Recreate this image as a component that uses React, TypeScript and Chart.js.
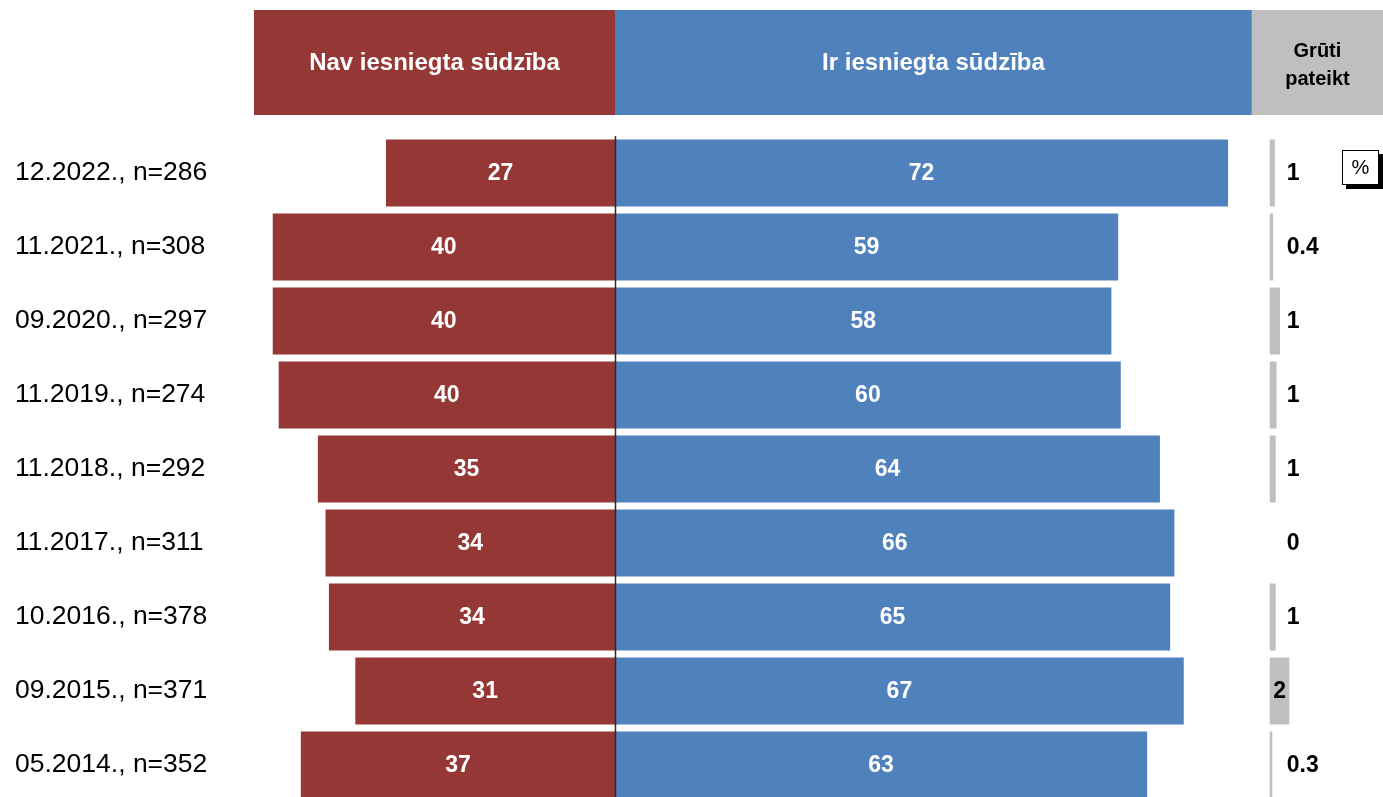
import React, { useEffect, useRef } from "react";
import { Chart, registerables } from "chart.js";

Chart.register(...registerables);

const FONT = "'Liberation Sans', Arial, Helvetica, sans-serif";

const categories = [
  "12.2022., n=286",
  "11.2021., n=308",
  "09.2020., n=297",
  "11.2019., n=274",
  "11.2018., n=292",
  "11.2017., n=311",
  "10.2016., n=378",
  "09.2015., n=371",
  "05.2014., n=352",
];
const seriesNames = ["Nav iesniegta sūdzība", "Ir iesniegta sūdzība", "Grūti pateikt"];
const notSubmitted = [26.9, 40.2, 40.2, 39.5, 34.9, 34.0, 33.6, 30.5, 36.9];
const submitted = [72.0, 59.1, 58.3, 59.4, 64.0, 65.7, 65.2, 66.8, 62.5];
const hardToSay = [0.6, 0.4, 1.2, 0.8, 0.7, 0, 0.7, 2.3, 0.3];
const notSubmittedLabels = ["27", "40", "40", "40", "35", "34", "34", "31", "37"];
const submittedLabels = ["72", "59", "58", "60", "64", "66", "65", "67", "63"];
const hardToSayLabels = ["1", "0.4", "1", "1", "1", "0", "1", "2", "0.3"];
const unitLabel = "%";

const RED = "#953735";
const BLUE = "#4F81BD";
const GRAY = "#BFBFBF";

const headerPlugin = {
  id: "headerPlugin",
  beforeDraw(chart: any) {
    const { ctx, chartArea, scales } = chart;
    const x0 = scales.x.getPixelForValue(0);
    const xBlueEnd = scales.x.getPixelForValue(74.8);
    const top = 10;
    const h = 105;
    ctx.save();
    ctx.fillStyle = RED;
    ctx.fillRect(chartArea.left, top, x0 - chartArea.left, h);
    ctx.fillStyle = BLUE;
    ctx.fillRect(x0, top, xBlueEnd - x0, h);
    ctx.fillStyle = GRAY;
    ctx.fillRect(xBlueEnd, top, chart.width - xBlueEnd, h);
    ctx.textAlign = "center";
    ctx.textBaseline = "middle";
    ctx.font = `bold 24px ${FONT}`;
    ctx.fillStyle = "#FFFFFF";
    ctx.fillText(seriesNames[0], (chartArea.left + x0) / 2, top + h / 2 + 1);
    ctx.fillText(seriesNames[1], (x0 + xBlueEnd) / 2, top + h / 2 + 1);
    ctx.font = `bold 20px ${FONT}`;
    ctx.fillStyle = "#000000";
    const gx = (xBlueEnd + chart.width) / 2;
    const parts = seriesNames[2].split(" ");
    ctx.fillText(parts[0], gx, top + 41);
    ctx.fillText(parts[1], gx, top + 69);
    ctx.restore();
  },
};

const labelsPlugin = {
  id: "labelsPlugin",
  afterDatasetsDraw(chart: any) {
    const { ctx, chartArea, scales } = chart;
    ctx.save();
    // zero line
    const x0 = Math.round(scales.x.getPixelForValue(0)) + 0.5;
    ctx.strokeStyle = "#2a2a2a";
    ctx.lineWidth = 1.5;
    ctx.beginPath();
    ctx.moveTo(x0, chartArea.top);
    ctx.lineTo(x0, chartArea.bottom);
    ctx.stroke();

    ctx.font = `bold 23px ${FONT}`;
    ctx.textBaseline = "middle";
    const labelSets = [notSubmittedLabels, submittedLabels, hardToSayLabels];
    labelSets.forEach((labels, di) => {
      const meta = chart.getDatasetMeta(di);
      meta.data.forEach((el: any, i: number) => {
        const text = labels[i];
        const w = Math.abs(el.x - el.base);
        if (di < 2) {
          ctx.fillStyle = "#FFFFFF";
          ctx.textAlign = "center";
          ctx.fillText(text, (el.x + el.base) / 2, el.y + 1);
        } else {
          ctx.fillStyle = "#000000";
          const tw = ctx.measureText(text).width;
          if (w > tw + 4) {
            ctx.textAlign = "center";
            ctx.fillText(text, (el.x + el.base) / 2, el.y + 1);
          } else {
            ctx.textAlign = "left";
            ctx.fillText(text, el.base + 17, el.y + 1);
          }
        }
      });
    });

    // unit box
    const bw = 37;
    const bh = 35;
    const bx = chart.width - 41;
    const by = chartArea.top + 14;
    ctx.fillStyle = "#000000";
    ctx.fillRect(bx + 4, by + 4, bw, bh);
    ctx.fillStyle = "#FFFFFF";
    ctx.fillRect(bx, by, bw, bh);
    ctx.strokeStyle = "#000000";
    ctx.lineWidth = 1;
    ctx.strokeRect(bx + 0.5, by + 0.5, bw - 1, bh - 1);
    ctx.fillStyle = "#000000";
    ctx.font = `20px ${FONT}`;
    ctx.textAlign = "center";
    ctx.textBaseline = "middle";
    ctx.fillText(unitLabel, bx + bw / 2, by + bh / 2 + 1);
    ctx.restore();
  },
};

export default function App() {
  const canvasRef = useRef<HTMLCanvasElement | null>(null);

  useEffect(() => {
    if (!canvasRef.current) return;
    const chart = new Chart(canvasRef.current, {
      type: "bar",
      data: {
        labels: categories,
        datasets: [
          {
            label: seriesNames[0],
            data: notSubmitted.map((v) => -v),
            backgroundColor: RED,
            xAxisID: "x",
            grouped: false,
            categoryPercentage: 1,
            barPercentage: 0.905,
          },
          {
            label: seriesNames[1],
            data: submitted,
            backgroundColor: BLUE,
            xAxisID: "x",
            grouped: false,
            categoryPercentage: 1,
            barPercentage: 0.905,
          },
          {
            label: seriesNames[2],
            data: hardToSay,
            backgroundColor: GRAY,
            xAxisID: "x2",
            grouped: false,
            categoryPercentage: 1,
            barPercentage: 0.905,
          },
        ] as any,
      },
      options: {
        indexAxis: "y",
        animation: false,
        responsive: true,
        maintainAspectRatio: false,
        layout: { padding: { left: 15, top: 136, right: 0, bottom: 0 } },
        plugins: {
          legend: { display: false },
          tooltip: { enabled: false },
        },
        scales: {
          x: { type: "linear", min: -42.4, max: 90.2, display: false },
          x2: { type: "linear", min: -119.3, max: 13.3, display: false },
          y: {
            type: "category",
            position: "left",
            grid: { display: false },
            border: { display: false },
            ticks: {
              color: "#000000",
              crossAlign: "far",
              padding: 0,
              font: { size: 26.5, family: FONT },
            },
            afterFit(scale: any) {
              scale.width = 239;
              scale.paddingTop = 0;
              scale.paddingBottom = 0;
            },
          },
        } as any,
      },
      plugins: [headerPlugin, labelsPlugin],
    });
    return () => chart.destroy();
  }, []);

  return (
    <div style={{ position: "fixed", left: 0, top: 0, width: 1383, height: 797, overflow: "hidden", background: "#FFFFFF" }}>
      <div style={{ position: "relative", width: 1383, height: 802 }}>
        <canvas ref={canvasRef} />
      </div>
    </div>
  );
}
